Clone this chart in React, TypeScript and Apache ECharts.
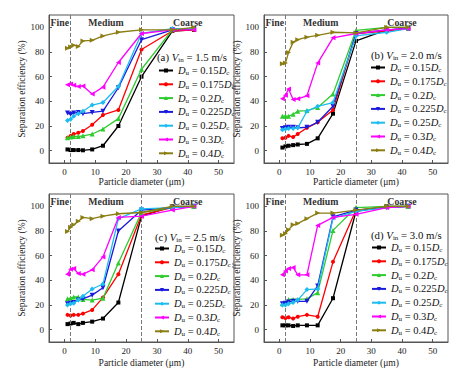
import React, { useEffect, useRef } from "react";
import * as echarts from "echarts";

const diameters = [1, 2, 3, 4.5, 6, 9, 12.5, 17.5, 25, 35, 42];
const seriesNames = ["0.15", "0.175", "0.2", "0.225", "0.25", "0.3", "0.4"];
const panelLetters = ["(a)", "(b)", "(c)", "(d)"];
const panelSpeeds = ["1.5", "2.0", "2.5", "3.0"];
const regionNames = ["Fine", "Medium", "Coarse"];
const regionBounds = [-5, 2, 25, 55];
const xTicks = [0, 10, 20, 30, 40, 50];
const yTicks = [0, 20, 40, 60, 80, 100];

// panel (a) Vin = 1.5 m/s
const a015 = [1, 0.5, 0.5, 0.5, 0.3, 1, 4, 20, 60, 97, 98];
const a0175 = [10.5, 12, 13.5, 14.5, 16, 21, 29, 33, 82, 97, 98];
const a02 = [10.5, 11, 11.5, 11.5, 12, 13.5, 17.5, 26, 66, 98, 99];
const a0225 = [30.5, 29.5, 30.5, 31, 30, 31, 32, 51, 90, 98, 99];
const a025 = [24.5, 25.5, 28, 30, 32, 37, 39, 52, 95, 99, 99];
const a03 = [53.5, 54, 53, 52, 52.5, 46, 51.5, 71.5, 95, 98, 98];
const a04 = [83, 84, 85.5, 84.5, 89, 89.5, 93, 96, 98, 98, 100];
// panel (b) Vin = 2.0 m/s
const b015 = [2.5, 3.5, 4, 4.5, 5, 5.5, 10, 30, 89, 98, 99];
const b0175 = [10, 10.5, 12, 11, 13.5, 18.5, 23, 33, 95, 97, 99];
const b02 = [28, 28, 28, 29.5, 32, 32.5, 35, 46, 97.5, 100, 100];
const b0225 = [18, 18.5, 19, 19, 18.5, 19, 23, 36, 95, 98, 99];
const b025 = [17, 17.5, 18, 18, 18.5, 32, 36, 39, 93, 96, 99];
const b03 = [42, 45, 50, 41.5, 42, 44.5, 71, 91.5, 95, 98, 99];
const b04 = [70.5, 71, 79.5, 88, 90, 92, 93.5, 96, 95.5, 100, 100];
// panel (c) Vin = 2.5 m/s
const c015 = [4.5, 5, 5.5, 4.5, 5.5, 6.5, 9, 22, 92, 100, 100];
const c0175 = [12, 11.5, 12, 12, 13, 16, 26, 45, 93, 99, 100];
const c02 = [25, 25.5, 26.5, 26.5, 24.5, 24, 25.5, 54, 95, 99, 100];
const c0225 = [21, 21.5, 22, 24, 25, 28, 34, 80, 97, 99, 100];
const c025 = [20, 21, 21.5, 24, 27, 33, 37, 90, 98, 99, 100];
const c03 = [45, 49, 49.5, 45.5, 45, 48.5, 59, 91, 92, 97, 100];
const c04 = [79.5, 83, 85, 88, 91, 90, 92, 94, 95, 100, 100];
// panel (d) Vin = 3.0 m/s
const d015 = [3.5, 3.5, 3.5, 3, 3.5, 3.5, 3.5, 25.5, 96, 100, 100];
const d0175 = [10, 9.5, 10, 9, 10.5, 12, 10.5, 55, 97, 99, 100];
const d02 = [21, 22, 24.5, 24.5, 24.5, 25, 30, 80.5, 99, 100, 100];
const d0225 = [21, 21.5, 22.5, 23, 23, 23, 35.5, 91.5, 97, 99, 100];
const d025 = [20, 20, 21, 22, 24, 32.5, 33, 90.5, 96, 99, 100];
const d03 = [44.5, 47.5, 49.5, 50.5, 44.5, 44.5, 84.5, 91, 93.5, 99, 100];
const d04 = [76.5, 78, 81, 85, 86, 90, 94.5, 94.5, 97, 100, 100];

const panels = [
  [a015, a0175, a02, a0225, a025, a03, a04],
  [b015, b0175, b02, b0225, b025, b03, b04],
  [c015, c0175, c02, c0225, c025, c03, c04],
  [d015, d0175, d02, d0225, d025, d03, d04],
];

const colors = ["#000000", "#ff0000", "#2ecc2e", "#1a1adc", "#1cbcf0", "#ff00ff", "#8a7d12"];
const symbols = ["rect", "circle", "triangle", "triangle", "diamond", "triangle", "triangle"];
const rotations = [0, 0, 0, 180, 0, 90, -90];

const FONT = "Liberation Serif";

const grids = [
  { left: 49, top: 15, width: 185, height: 148 },
  { left: 264, top: 15, width: 184, height: 148 },
  { left: 49, top: 194, width: 185, height: 148 },
  { left: 264, top: 194, width: 184, height: 148 },
];
const titlePos = [
  { left: 157, top: 51 },
  { left: 371, top: 49 },
  { left: 155, top: 231 },
  { left: 371, top: 229 },
];
const legendPos = [
  { left: 158, top: 65 },
  { left: 370, top: 62 },
  { left: 154, top: 243 },
  { left: 371, top: 242 },
];

const rich = {
  n: { fontFamily: FONT, fontSize: 10.5, color: "#111", lineHeight: 12 },
  i: { fontFamily: FONT, fontSize: 10.5, color: "#111", fontStyle: "italic", lineHeight: 12 },
  s: { fontFamily: FONT, fontSize: 7, color: "#111", lineHeight: 5, verticalAlign: "bottom" },
};
const titleRich = {
  n: { fontFamily: FONT, fontSize: 10.8, color: "#111", lineHeight: 12 },
  i: { fontFamily: FONT, fontSize: 10.8, color: "#111", fontStyle: "italic", lineHeight: 12 },
  s: { fontFamily: FONT, fontSize: 7, color: "#111", lineHeight: 5, verticalAlign: "bottom" },
};

function legendLabel(name: string) {
  const v = name.split("_")[0];
  return `{i|D}{s|u}{n| = ${v}}{i|D}{s|c}`;
}

export default function App() {
  const ref = useRef<HTMLDivElement>(null);
  useEffect(() => {
    if (!ref.current) return;
    const chart = echarts.init(ref.current, undefined, { renderer: "svg" });
    const xAxes: any[] = [];
    const yAxes: any[] = [];
    const series: any[] = [];
    const legends: any[] = [];
    const titles: any[] = [];
    panels.forEach((panel, p) => {
      xAxes.push({
        type: "value",
        gridIndex: p,
        min: -5,
        max: 55,
        name: "Particle diameter (μm)",
        nameLocation: "middle",
        nameGap: p >= 2 ? 16 : 14,
        nameTextStyle: { fontFamily: FONT, fontSize: 9.5, color: "#222" },
        axisLine: { show: true, onZero: false, lineStyle: { color: "#555" } },
        axisTick: { show: true, inside: true, length: 3, customValues: xTicks, lineStyle: { color: "#555" } },
        axisLabel: { customValues: xTicks, fontFamily: FONT, fontSize: 9, color: "#222", margin: 4 },
        splitLine: { show: false },
      });
      yAxes.push({
        type: "value",
        gridIndex: p,
        min: -10,
        max: 110,
        name: "Separation efficiency (%)",
        nameLocation: "middle",
        nameGap: 18,
        nameTextStyle: { fontFamily: FONT, fontSize: 9.5, color: "#222" },
        axisLine: { show: true, onZero: false, lineStyle: { color: "#555" } },
        axisTick: { show: true, inside: true, length: 3, customValues: yTicks, lineStyle: { color: "#555" } },
        axisLabel: { customValues: yTicks, fontFamily: FONT, fontSize: 9, color: "#222", margin: 5 },
        splitLine: { show: false },
      });
      panel.forEach((vals, k) => {
        const s: any = {
          type: "line",
          name: seriesNames[k] + "_",
          xAxisIndex: p,
          yAxisIndex: p,
          data: diameters.map((x, i) => [x, vals[i]]),
          symbol: symbols[k],
          symbolRotate: rotations[k],
          symbolSize: k === 0 || k === 1 ? 4 : 5,
          lineStyle: { color: colors[k], width: 1.3 },
          itemStyle: { color: colors[k] },
          z: 3 + k,
        };
        if (k === 0) {
          s.markLine = {
            silent: true,
            symbol: ["none", "none"],
            label: { show: false },
            lineStyle: { type: "dashed", color: "#777", width: 1 },
            data: [{ xAxis: regionBounds[1] }, { xAxis: regionBounds[2] }],
          };
          s.markArea = {
            silent: true,
            itemStyle: { color: "rgba(0,0,0,0)" },
            label: {
              show: true,
              position: "insideTop",
              distance: 2,
              fontFamily: FONT,
              fontWeight: "bold",
              fontSize: 9.8,
              color: "#333",
            },
            data: regionNames.map((nm, r) => [
              { name: nm, xAxis: regionBounds[r] },
              { xAxis: regionBounds[r + 1] },
            ]),
          };
        }
        series.push(s);
      });
      legends.push({
        orient: "vertical",
        left: legendPos[p].left,
        top: legendPos[p].top,
        itemWidth: 14,
        itemHeight: 5,
        itemGap: 2.3,
        padding: 0,
        selectedMode: false,
        data: seriesNames.map((n) => n + "_"),
        formatter: legendLabel,
        textStyle: { fontFamily: FONT, fontSize: 10.5, color: "#111", rich },
      });
      titles.push({
        left: titlePos[p].left,
        top: titlePos[p].top,
        padding: 0,
        text: `{n|${panelLetters[p]} }{i|V}{s|in}{n| = ${panelSpeeds[p]} m/s}`,
        textStyle: { fontFamily: FONT, fontSize: 10.8, fontWeight: "normal", color: "#111", rich: titleRich },
      });
    });
    chart.setOption({
      animation: false,
      backgroundColor: "#ffffff",
      title: titles,
      grid: grids.map((g) => ({ ...g, show: true, borderColor: "#555", borderWidth: 1, backgroundColor: "transparent" })),
      xAxis: xAxes,
      yAxis: yAxes,
      legend: legends,
      series,
    });
    return () => chart.dispose();
  }, []);
  return (
    <div
      ref={ref}
      style={{ position: "fixed", left: 0, top: 0, width: 466, height: 375, background: "#fff" }}
    />
  );
}
